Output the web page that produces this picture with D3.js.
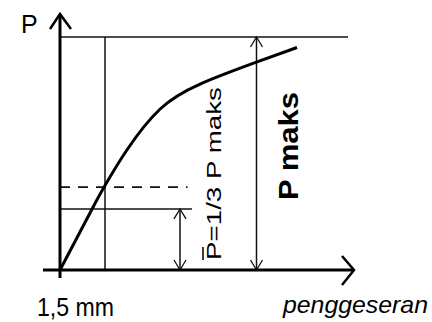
<!DOCTYPE html>
<html>
<head>
<meta charset="utf-8">
<script src="https://cdn.jsdelivr.net/npm/d3@7"></script>
<style>
  body { margin: 0; background: #fff; }
  text { font-family: "Liberation Sans", Arial, sans-serif; fill: #000; }
</style>
</head>
<body>
<svg width="432" height="322"></svg>
<script>
// displacement (mm) and load as fraction of P maks
var disp = [0, 1.07, 1.47, 2.23, 3.33, 4.67, 6.57, 7.9];
var load = [0, 0.262, 0.356, 0.515, 0.69, 0.798, 0.893, 0.955];

var pMaks = 1;
var pBarLevel = 0.262;   // solid line, arrow labelled P=1/3 P maks
var dashLevel = 0.356;   // dashed line
var xRef = 1.5;          // 1,5 mm
var xArrowBar = 4.0;
var xArrowMaks = 6.55;

var labelP = "P";
var labelX = "penggeseran";
var labelRef = "1,5 mm";
var labelBar = "P=1/3 P maks";
var labelMaks = "P maks";

var svg = d3.select("svg");

var x = d3.scaleLinear().domain([0, 10]).range([60, 360]);
var y = d3.scaleLinear().domain([0, 1]).range([270, 37]);

var data = disp.map(function(d, i) {
  return { d: d, p: load[i] };
});

// thin guide lines
svg.append("line")
  .attr("x1", x(0)).attr("x2", x(9.6))
  .attr("y1", y(pMaks)).attr("y2", y(pMaks))
  .attr("stroke", "#111").attr("stroke-width", 1.5);

svg.append("line")
  .attr("x1", x(xRef)).attr("x2", x(xRef))
  .attr("y1", y(pMaks)).attr("y2", y(0))
  .attr("stroke", "#111").attr("stroke-width", 1.5);

svg.append("line")
  .attr("x1", x(0)).attr("x2", x(4.4))
  .attr("y1", y(pBarLevel)).attr("y2", y(pBarLevel))
  .attr("stroke", "#111").attr("stroke-width", 1.5);

svg.append("line")
  .attr("x1", x(0)).attr("x2", x(4.25))
  .attr("y1", y(dashLevel)).attr("y2", y(dashLevel))
  .attr("stroke", "#111").attr("stroke-width", 1.8)
  .attr("stroke-dasharray", "10,8");

// double arrows
function dimArrow(xv, top, bottom) {
  var px = x(xv), t = y(top), b = y(bottom);
  svg.append("line")
    .attr("x1", px).attr("x2", px).attr("y1", t).attr("y2", b)
    .attr("stroke", "#111").attr("stroke-width", 1.5);
  svg.append("path")
    .attr("d", "M" + (px - 6) + "," + (t + 10) + "L" + px + "," + t + "L" + (px + 6) + "," + (t + 10))
    .attr("fill", "none").attr("stroke", "#111").attr("stroke-width", 1.3);
  svg.append("path")
    .attr("d", "M" + (px - 6) + "," + (b - 10) + "L" + px + "," + b + "L" + (px + 6) + "," + (b - 10))
    .attr("fill", "none").attr("stroke", "#111").attr("stroke-width", 1.3);
}
dimArrow(xArrowBar, pBarLevel, 0);
dimArrow(xArrowMaks, pMaks, 0);

// axes
svg.append("line")
  .attr("x1", 43).attr("x2", 354)
  .attr("y1", y(0)).attr("y2", y(0))
  .attr("stroke", "#000").attr("stroke-width", 3);
svg.append("path")
  .attr("d", "M342,256L354,270L342,285")
  .attr("fill", "none").attr("stroke", "#000").attr("stroke-width", 2.5);

svg.append("line")
  .attr("x1", x(0)).attr("x2", x(0))
  .attr("y1", 278).attr("y2", 14)
  .attr("stroke", "#000").attr("stroke-width", 3);
svg.append("path")
  .attr("d", "M50,29L60,14L71,29")
  .attr("fill", "none").attr("stroke", "#000").attr("stroke-width", 2.5);

// load-displacement curve
var line = d3.line()
  .x(function(d) { return x(d.d); })
  .y(function(d) { return y(d.p); })
  .curve(d3.curveNatural);

svg.append("path")
  .datum(data)
  .attr("d", line)
  .attr("fill", "none")
  .attr("stroke", "#000")
  .attr("stroke-width", 3);

// labels
svg.append("text")
  .attr("x", 21).attr("y", 33)
  .style("font-size", "25px")
  .text(labelP);

svg.append("text")
  .attr("x", 37).attr("y", 316)
  .attr("textLength", 77).attr("lengthAdjust", "spacingAndGlyphs")
  .style("font-size", "25px")
  .text(labelRef);

svg.append("text")
  .attr("x", 283).attr("y", 313)
  .style("font-size", "24px")
  .style("font-style", "italic")
  .attr("textLength", 145).attr("lengthAdjust", "spacingAndGlyphs")
  .text(labelX);

svg.append("text")
  .attr("transform", "translate(221,260) rotate(-90)")
  .attr("textLength", 173).attr("lengthAdjust", "spacingAndGlyphs")
  .style("font-size", "21px")
  .text(labelBar);

// bar over the first P
svg.append("line")
  .attr("x1", 203).attr("x2", 203)
  .attr("y1", 260).attr("y2", 247)
  .attr("stroke", "#000").attr("stroke-width", 1.5);

svg.append("text")
  .attr("transform", "translate(298,200) rotate(-90)")
  .attr("textLength", 108).attr("lengthAdjust", "spacingAndGlyphs")
  .style("font-size", "28px")
  .style("font-weight", "bold")
  .text(labelMaks);
</script>
</body>
</html>
